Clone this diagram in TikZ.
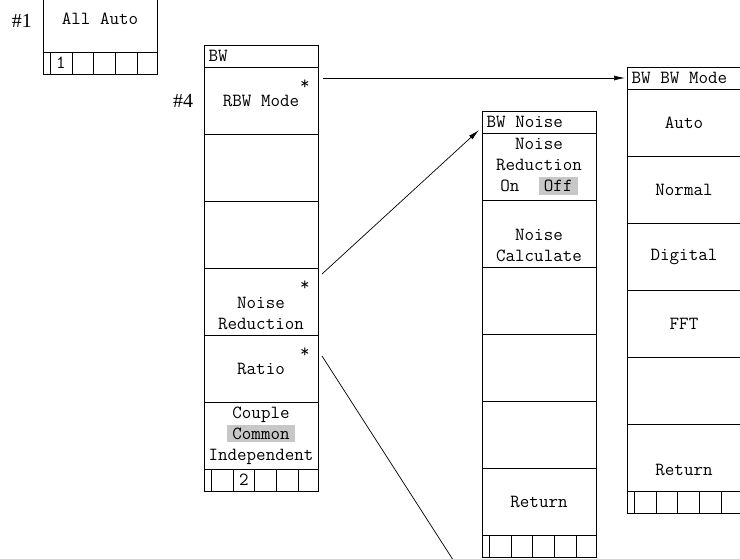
\documentclass[tikz,border=0pt]{standalone}
\usepackage{fontspec}
\setmainfont{Liberation Serif}
\usetikzlibrary{arrows.meta,positioning}

\newcommand{\keyfont}{\fontsize{18.5}{21}\selectfont\ttfamily\spaceskip=0.525em\relax}
\newcommand{\keyhl}[1]{{\setlength{\fboxsep}{3pt}\colorbox{black!22}{\hspace{2pt}#1\hspace{2pt}}}}
\newcommand{\headtext}[1]{\makebox[105pt][l]{#1}}

\begin{document}
\begin{tikzpicture}[x=1pt,y=-1pt,>={Latex[length=11pt,width=5pt]},line width=0.8pt,
  menukey/.style={draw,minimum width=114pt,minimum height=67pt,inner sep=0pt,outer sep=0pt,align=center,font=\keyfont},
  menuhead/.style={draw,minimum width=114pt,minimum height=22pt,inner xsep=4.5pt,inner ysep=0pt,outer sep=0pt,font=\keyfont,anchor=north west},
  menutabs/.style={draw,minimum width=114pt,minimum height=22pt,inner sep=0pt,outer sep=0pt},
  tabnum/.style={font=\keyfont,inner sep=0pt},
  keystar/.style={font=\keyfont,inner sep=0pt,anchor=north east},
  menutag/.style={font=\fontsize{20}{24}\selectfont,inner sep=0pt},
  menulink/.style={->,line width=0.7pt}]
  \useasboundingbox (0,0) rectangle (740,558);
  \clip (0,0) rectangle (740,558);

  % #1 all auto
  \node[menukey,anchor=south west] (auto-1) at (43,52) {All Auto};
  \node[menutabs,below=0pt of auto-1] (auto-tab) {};
  \node[tabnum] (auto-num) at ([xshift=18pt]auto-tab.west) {1};
  \node[menutag] (tag-auto) at (22,21) {\#1};

  % #4 BW
  \node[menuhead] (bw-head) at (204,45) {\headtext{BW}};
  \node[menukey,below=0pt of bw-head] (bw-1) {RBW Mode};
  \node[menukey,below=0pt of bw-1] (bw-2) {};
  \node[menukey,below=0pt of bw-2] (bw-3) {};
  \node[menukey,below=0pt of bw-3] (bw-4) {\strut\\Noise\\Reduction};
  \node[menukey,below=0pt of bw-4] (bw-5) {Ratio};
  \node[menukey,below=0pt of bw-5] (bw-6) {Couple\\\keyhl{Common}\\Independent};
  \node[menutabs,below=0pt of bw-6] (bw-tab) {};
  \node[tabnum] (bw-num) at ([xshift=40pt]bw-tab.west) {2};
  \node[menutag] (tag-bw) at (183,101) {\#4};
  \foreach \s in {1,4,5}
    \node[keystar] (bw-star\s) at ([xshift=-8pt,yshift=-12pt]bw-\s.north east) {*};

  % BW Noise
  \node[menuhead] (noise-head) at (482,111) {\headtext{BW Noise}};
  \node[menukey,below=0pt of noise-head] (noise-1) {Noise\\Reduction\\On~~\keyhl{Off}};
  \node[menukey,below=0pt of noise-1] (noise-2) {\strut\\Noise\\Calculate};
  \node[menukey,below=0pt of noise-2] (noise-3) {};
  \node[menukey,below=0pt of noise-3] (noise-4) {};
  \node[menukey,below=0pt of noise-4] (noise-5) {};
  \node[menukey,below=0pt of noise-5] (noise-6) {Return};
  \node[menutabs,below=0pt of noise-6] (noise-tab) {};

  % BW BW Mode
  \node[menuhead] (mode-head) at (627,67) {\headtext{BW BW Mode}};
  \node[menukey,below=0pt of mode-head] (mode-1) {Auto};
  \node[menukey,below=0pt of mode-1] (mode-2) {Normal};
  \node[menukey,below=0pt of mode-2] (mode-3) {Digital};
  \node[menukey,below=0pt of mode-3] (mode-4) {FFT};
  \node[menukey,below=0pt of mode-4] (mode-5) {};
  \node[menukey,below=0pt of mode-5] (mode-6) {\strut\\Return};
  \node[menutabs,below=0pt of mode-6] (mode-tab) {};

  % tab ticks
  \foreach \tb in {auto-tab,bw-tab,noise-tab,mode-tab}
    \foreach \t in {7,29,50,72,94}
      \draw ([xshift=\t pt]\tb.north west) -- ([xshift=\t pt]\tb.south west);

  % links
  \coordinate (ratio-end) at (466,580);
  \draw[menulink] ([xshift=5pt,yshift=-11pt]bw-1.north east) -- ([xshift=-2pt]mode-head.west);
  \draw[menulink] ([xshift=4pt,yshift=-6pt]bw-4.north east) -- ([xshift=-3pt,yshift=3pt]noise-head.south west);
  \draw[menulink] ([xshift=4pt,yshift=-21pt]bw-5.north east) -- (ratio-end);
\end{tikzpicture}
\end{document}
